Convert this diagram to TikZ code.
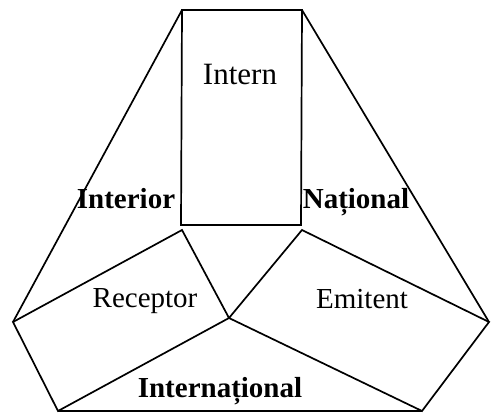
\documentclass[tikz,border=0pt]{standalone}
\usepackage{fontspec}
\setmainfont{Liberation Serif}
\begin{document}
\begin{tikzpicture}[x=1pt,y=-1pt,
  edge/.style={line width=1.7pt,line join=miter,black},
  lbl/.style={font=\fontsize{29}{32}\selectfont,anchor=base,inner sep=0pt},
  blbl/.style={lbl,font=\fontsize{29}{32}\selectfont\bfseries}]
\useasboundingbox (0,0) rectangle (492,414);
% corner points
\coordinate (TL) at (182,10);
\coordinate (TR) at (302,10);
\coordinate (BL) at (181,225);
\coordinate (BR) at (301,225);
\coordinate (L) at (13,322);
\coordinate (R) at (489,322);
\coordinate (C) at (229,318);
\coordinate (RT) at (182,230);
\coordinate (ET) at (302,230);
\coordinate (LB) at (58,411);
\coordinate (RB) at (422,411);
% shapes
\draw[edge] (TL) -- (TR) -- (BR) -- (BL) -- cycle;
\draw[edge] (TL) -- (L);
\draw[edge] (TR) -- (R);
\draw[edge] (L) -- (RT) -- (C) -- (LB) -- cycle;
\draw[edge] (C) -- (ET) -- (R) -- (RB) -- cycle;
\draw[edge] (LB) -- (RB);
% labels
\node[lbl,font=\fontsize{31}{34}\selectfont] (intern) at (240,85) {Intern};
\node[lbl] (receptor) at (145,307) {Receptor};
\node[lbl] (emitent) at (362,308) {Emitent};
\node[blbl] (interior) at (126,208) {Interior};
\node[blbl] (national) at (356,208) {Na\char"021B ional};
\node[blbl] (international) at (220,397) {Interna\char"021B ional};
\end{tikzpicture}
\end{document}
